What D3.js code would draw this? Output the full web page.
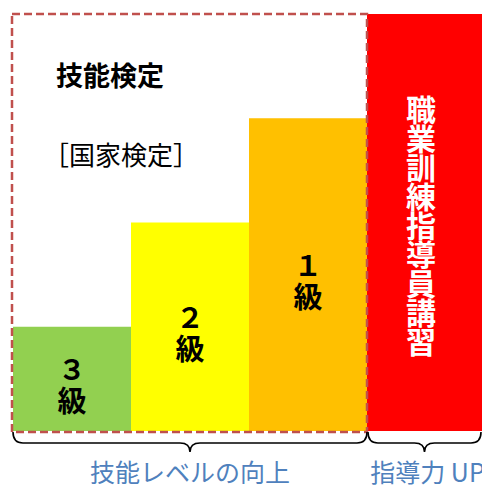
<!DOCTYPE html>
<html><head><meta charset="utf-8">
<script src="https://cdn.jsdelivr.net/npm/d3@7"></script>
<style>html,body{margin:0;padding:0;background:#fff;}svg{display:block;}</style>
</head><body>
<script>
const categories = ["3級", "2級", "1級", "職業訓練指導員講習"];
const digits = ["３", "２", "１"];
const values = [1, 2, 3, 4];
const colors = ["#92d050", "#ffff00", "#ffc000", "#ff0000"];
const groupLabels = ["技能レベルの向上", "指導力 UP"];
const titleText = "技能検定";
const subtitleText = "［国家検定］";

const W = 482, H = 486;
const font = "'Noto Sans CJK JP', 'Noto Sans', sans-serif";
const svg = d3.select("body").append("svg").attr("width", W).attr("height", H);

const x = d3.scaleBand().domain(categories).range([13, 485]).padding(0);
const y = d3.scaleLinear().domain([0, 4]).range([431, 14]);

svg.selectAll("rect.bar").data(categories).join("rect")
  .attr("class", "bar")
  .attr("x", d => x(d))
  .attr("width", x.bandwidth() + 0.5)
  .attr("y", (d, i) => y(values[i]))
  .attr("height", (d, i) => y(0) - y(values[i]))
  .attr("fill", (d, i) => colors[i]);

// dashed frame around 技能検定 group
const fx0 = x(categories[0]) - 1, fx1 = x(categories[3]);
svg.append("rect")
  .attr("x", fx0).attr("y", y(4))
  .attr("width", fx1 - fx0).attr("height", y(0) + 1 - y(4))
  .attr("fill", "none").attr("stroke", "#c0504d")
  .attr("stroke-width", 2.5).attr("stroke-dasharray", "8,4");

// bar labels
categories.slice(0, 3).forEach((c, i) => {
  const cx = x(c) + x.bandwidth() / 2;
  const top = y(values[i]);
  const barH = y(0) - top;
  const base = top + barH / 2 + 1;
  svg.append("text").attr("text-anchor", "middle")
    .attr("x", cx).attr("y", base)
    .attr("font-family", font).attr("font-weight", "bold").attr("font-size", 28).attr("fill", "#000")
    .text(digits[i]);
  svg.append("text").attr("text-anchor", "middle")
    .attr("x", cx).attr("y", base + 32)
    .attr("font-family", font).attr("font-weight", "bold").attr("font-size", 29).attr("fill", "#000")
    .text("級");
});

// vertical text in red bar
svg.append("text")
  .attr("x", x(categories[3]) + x.bandwidth() / 2 - 5)
  .attr("y", 225)
  .attr("text-anchor", "middle")
  .style("writing-mode", "vertical-rl")
  .attr("font-family", font).attr("font-weight", "bold").attr("font-size", 30)
  .attr("letter-spacing", -1)
  .attr("fill", "#fff")
  .text(categories[3]);

// titles
svg.append("text").attr("x", 56).attr("y", 86)
  .attr("font-family", font).attr("font-weight", "bold").attr("font-size", 27).attr("fill", "#000")
  .text(titleText);
svg.append("text").attr("x", 43).attr("y", 165)
  .attr("font-family", font).attr("font-size", 26).attr("fill", "#000")
  .text(subtitleText);

// braces
function brace(x0, x1, y0, ym, yt) {
  const xc = (x0 + x1) / 2, r = 10;
  return `M${x0},${y0} Q${x0},${ym} ${x0 + r},${ym} L${xc - r},${ym} Q${xc},${ym} ${xc},${yt} Q${xc},${ym} ${xc + r},${ym} L${x1 - r},${ym} Q${x1},${ym} ${x1},${y0}`;
}
const groups = [[fx0 + 1, fx1], [fx1 + 1, 481]];
groups.forEach((g, i) => {
  svg.append("path").attr("d", brace(g[0], g[1], 432, 443, 452))
    .attr("fill", "none").attr("stroke", "#000").attr("stroke-width", 1.6);
  svg.append("text").attr("x", (g[0] + g[1]) / 2 + (i ? 3 : 0)).attr("y", 482)
    .attr("text-anchor", "middle")
    .attr("font-family", font).attr("font-size", 25).attr("fill", "#4f81bd")
    .text(groupLabels[i]);
});
</script>
</body></html>
